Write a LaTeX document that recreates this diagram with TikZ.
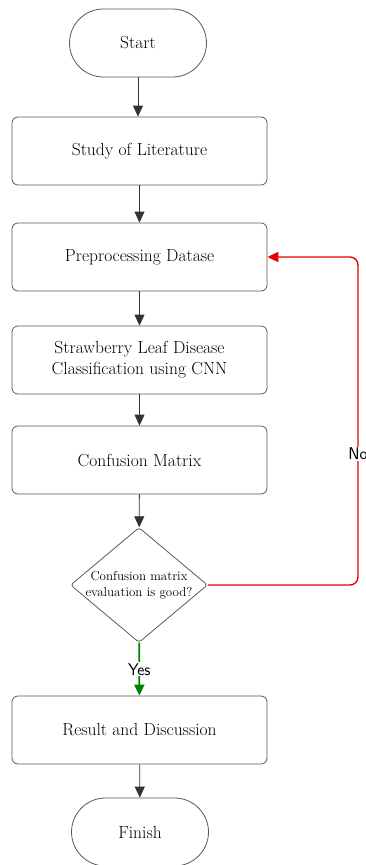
\documentclass[tikz,border=0pt]{standalone}
\usetikzlibrary{shapes.geometric, arrows.meta}

\begin{document}
\begin{tikzpicture}[x=1pt, y=-1pt,
  box/.style={draw=black!65, line width=0.8pt, rounded corners=6pt,
    minimum width=255pt, minimum height=68pt, align=center,
    font=\fontsize{17.5}{21}\selectfont},
  term/.style={draw=black!65, line width=0.8pt, rounded corners=34pt,
    minimum width=137pt, minimum height=68pt,
    font=\fontsize{17.5}{21}\selectfont},
  decision/.style={draw=black!65, line width=0.8pt, diamond, rounded corners=3pt,
    minimum width=137pt, minimum height=115pt, inner sep=-12pt, align=center,
    font=\fontsize{13}{16.5}\selectfont},
  arr/.style={draw=black!80, line width=0.8pt, -{Triangle[length=11pt, width=10pt]}},
  lbl/.style={fill=white, inner sep=1pt, font=\sffamily\fontsize{17}{20}\selectfont}]
  % page frame
  \useasboundingbox (0,0) rectangle (366,865);

  % flow, top to bottom
  \node[term] (start) at (138,43) {Start};
  \node[box] (study) at (139.5,151) {Study of Literature};
  \node[box] (prep) at (139.5,257) {Preprocessing Datase};
  \node[box] (cnn) at (139.5,360) {Strawberry Leaf Disease\\Classification using CNN};
  \node[box] (cm) at (139.5,460) {Confusion Matrix};
  \node[decision] (eval) at (139,585) {Confusion matrix\\evaluation is good?};
  \node[box] (result) at (139.5,730) {Result and Discussion};
  \node[term] (finish) at (140,832) {Finish};

  \draw[arr] (start) -- (start |- study.north);
  \draw[arr] (study) -- (prep);
  \draw[arr] (prep) -- (cnn);
  \draw[arr] (cnn) -- (cm);
  \draw[arr] (cm) -- (eval);
  \draw[arr, draw=green!50!black, line width=1.8pt] (eval) -- node[lbl] {Yes} (result);
  \draw[arr] (result) -- (finish);

  % loop back when the evaluation fails
  \coordinate (back) at (358,257);
  \draw[arr, draw=red!90!black, line width=1.4pt, rounded corners=8pt]
    (eval.east) -| node[lbl, pos=0.7] {No} (back) -- (prep.east);
\end{tikzpicture}
\end{document}
